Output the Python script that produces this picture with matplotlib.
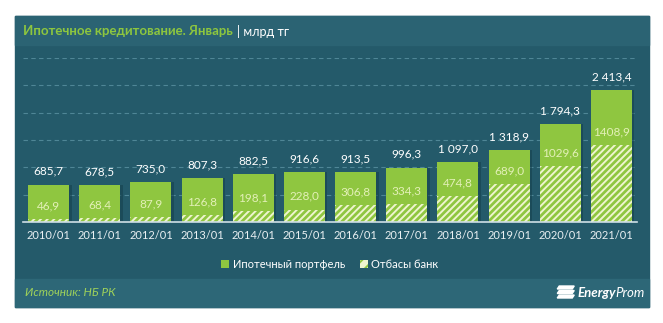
import matplotlib
matplotlib.use("Agg")
import matplotlib.pyplot as plt
from matplotlib.patches import Rectangle, Patch, Polygon

# ---- data ----
categories = ["2010/01", "2011/01", "2012/01", "2013/01", "2014/01", "2015/01",
              "2016/01", "2017/01", "2018/01", "2019/01", "2020/01", "2021/01"]
mortgage_total = [685.7, 678.5, 735.0, 807.3, 882.5, 916.6, 913.5, 996.3,
                  1097.0, 1318.9, 1794.3, 2413.4]
otbasy = [46.9, 68.4, 87.9, 126.8, 198.1, 228.0, 306.8, 334.3, 474.8, 689.0,
          1029.6, 1408.9]
total_labels = ["685,7", "678,5", "735,0", "807,3", "882,5", "916,6", "913,5",
                "996,3", "1 097,0", "1 318,9", "1 794,3", "2 413,4"]
otbasy_labels = ["46,9", "68,4", "87,9", "126,8", "198,1", "228,0", "306,8",
                 "334,3", "474,8", "689,0", "1029,6", "1408,9"]
series_names = ["Ипотечный портфель", "Отбасы банк"]

plt.rcParams['font.family'] = ['Lato', 'DejaVu Sans']
plt.rcParams['hatch.linewidth'] = 1.4

W, H = 663, 323
fig = plt.figure(figsize=(W / 100, H / 100), dpi=100, facecolor="white")

def fx(px):
    return px / W

def fy(py):
    return 1 - py / H

# panel backgrounds
PANEL = "#245a6a"
TITLE_BG = "#2b6373"
FOOT_BG = "#2d6777"
for (x0, y0, x1, y1, c) in [(15, 16, 649, 307, PANEL), (15, 16, 649, 45, TITLE_BG),
                            (15, 279, 649, 307, FOOT_BG)]:
    fig.patches.append(Rectangle((fx(x0), fy(y1)), fx(x1) - fx(x0), fy(y0) - fy(y1),
                                 transform=fig.transFigure, color=c, zorder=-10))

GREEN = "#8fc640"
CREAM = "#eef4cf"

ax = fig.add_axes([fx(23), fy(222), fx(637) - fx(23), fy(58) - fy(222)])
ax.set_zorder(2)
ax.set_facecolor("none")
x = list(range(len(categories)))

# shadow
ax.bar([i + 0.05 for i in x], mortgage_total, width=0.8, color="#143f4c",
       alpha=0.55, zorder=2, linewidth=0)
ax.bar(x, mortgage_total, width=0.8, color=GREEN, zorder=3, linewidth=0)
ax.bar(x, otbasy, width=0.8, facecolor=GREEN, edgecolor=CREAM, hatch="/////",
       linewidth=0, zorder=4)

for i in x:
    ax.annotate(total_labels[i], (i, mortgage_total[i]), xytext=(0, 9.5),
                textcoords="offset points", ha="center", va="center",
                color="white", fontsize=8.5, zorder=6)
    ax.annotate(otbasy_labels[i], (i, otbasy[i]), xytext=(0, 9.5),
                textcoords="offset points", ha="center", va="center",
                color="#e3f0b8", fontsize=8.5, zorder=6)

ax.set_xlim(-0.5, len(categories) - 0.5)
ax.set_ylim(0, 3000)
ax.set_yticks([500, 1000, 1500, 2000, 2500, 3000])
ax.yaxis.grid(True, color="#4f8696", linestyle=(0, (4, 3)), linewidth=0.8)
ax.set_axisbelow(True)
ax.tick_params(axis="y", left=False, labelleft=False)
ax.set_xticks(x)
ax.set_xticklabels(categories, color="#e9f0f2", fontsize=8)
ax.tick_params(axis="x", length=0, pad=6)
for s in ["top", "right", "left"]:
    ax.spines[s].set_visible(False)
ax.spines["bottom"].set_color("#cfe0e6")
ax.spines["bottom"].set_linewidth(1.2)
ax.spines["bottom"].set_zorder(7)

# legend
handles = [Patch(facecolor=GREEN, edgecolor="none"),
           Patch(facecolor=CREAM, edgecolor=GREEN, hatch="///", linewidth=0)]
fig.legend(handles, series_names, loc="center", bbox_to_anchor=(fx(330), fy(264)),
           ncol=2, frameon=False, fontsize=8, labelcolor="white",
           handlelength=0.7, handleheight=0.7, handletextpad=0.3, columnspacing=1.4)

# title
t1 = fig.text(fx(23), fy(31), "Ипотечное кредитование. Январь", color="#8dc63f",
              fontsize=9.5, fontweight="bold", va="center", ha="left")
fig.canvas.draw()
bb = t1.get_window_extent()
fig.text(bb.x1 / W + fx(4), fy(31), "| млрд тг", color="white", fontsize=9,
         va="center", ha="left")

# footer
fig.text(fx(25), fy(293), "Источник: НБ РК", color="#9fd25a", fontsize=8.5,
         style="italic", va="center", ha="left")
t2 = fig.text(fx(645), fy(293), "Prom", color="white", fontsize=9.5, style="italic",
              va="center", ha="right")
fig.canvas.draw()
bb2 = t2.get_window_extent()
t3 = fig.text(bb2.x0 / W, fy(293), "Energy", color="white", fontsize=9.5,
              style="italic", fontweight="bold", va="center", ha="right")
fig.canvas.draw()
bb3 = t3.get_window_extent()
lx = bb3.x0 - 22
for k in range(3):
    top = 286 + k * 4.5
    poly = Polygon([(fx(lx + 4), fy(top)), (fx(lx + 19), fy(top)),
                    (fx(lx + 17), fy(top + 3)), (fx(lx + 2), fy(top + 3))],
                   closed=True, transform=fig.transFigure, color="white", zorder=5)
    fig.patches.append(poly)

fig.savefig("out.png", dpi=100, facecolor="white")
